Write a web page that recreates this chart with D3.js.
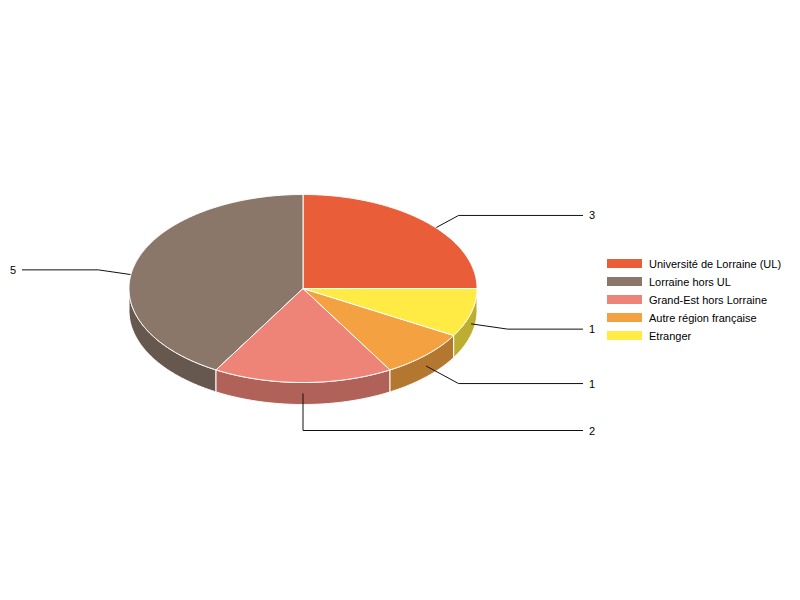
<!DOCTYPE html>
<html>
<head>
<meta charset="utf-8">
<script src="https://cdn.jsdelivr.net/npm/d3@7/dist/d3.min.js"></script>
<style>
  html, body { margin: 0; padding: 0; background: #fff; }
  svg { display: block; font-family: "Liberation Sans", Arial, sans-serif; }
</style>
</head>
<body>
<svg id="chart" width="800" height="600"></svg>
<script>
// ---- data ----
const categories = ["Université de Lorraine (UL)", "Lorraine hors UL", "Grand-Est hors Lorraine", "Autre région française", "Etranger"];
const values = [3, 5, 2, 1, 1];
const colors = ["#E95D38", "#8A7769", "#EE8377", "#F3A141", "#FFEB43"];

// ---- layout ----
const cx = 303, cy = 288.5, rx = 174, ry = 94, depth = 22;
const tickLen = 37;
const rightColX = 583, leftColX = 22;

const svg = d3.select("#chart");

const data = categories.map((c, i) => ({ name: c, value: values[i], color: colors[i] }));
const pie = d3.pie().sort(null).value(d => d.value).startAngle(0).endAngle(2 * Math.PI);
const arcs = pie(data).map(a => {
  // counter-clockwise from 3 o'clock in screen coordinates
  let t0 = -a.endAngle, t1 = -a.startAngle;
  while (t0 < 0) { t0 += 2 * Math.PI; t1 += 2 * Math.PI; }
  return { ...a, t0, t1, mid: (t0 + t1) / 2 };
});

const px = t => cx + rx * Math.cos(t);
const py = t => cy + ry * Math.sin(t);

function arcPoints(a, b, dy) {
  const n = Math.max(2, Math.ceil((b - a) / 0.01));
  return d3.range(n + 1).map(i => {
    const t = a + (b - a) * i / n;
    return [px(t), py(t) + dy];
  });
}

const line = d3.line();

// side walls (visible front half)
const sides = svg.append("g");
arcs.forEach(a => {
  [[0, Math.PI], [2 * Math.PI, 3 * Math.PI]].forEach(([lo, hi]) => {
    const s = Math.max(a.t0, lo), e = Math.min(a.t1, hi);
    if (e - s > 1e-6) {
      const top = arcPoints(s, e, 0);
      const bot = arcPoints(s, e, depth).reverse();
      sides.append("path")
        .attr("d", line(top.concat(bot)) + "Z")
        .attr("fill", d3.color(a.data.color).darker(0.85))
        .attr("stroke", "#fff")
        .attr("stroke-width", 1)
        .attr("stroke-linejoin", "round");
    }
  });
});

// leader lines (drawn under the top faces)
const leaders = svg.append("g");
arcs.forEach(a => {
  const m = a.mid;
  const ax = px(m), ay = py(m) + depth / 2;
  const ang = Math.atan2(ry * Math.sin(m), rx * Math.cos(m));
  const bx = ax + tickLen * Math.cos(ang), by = ay + tickLen * Math.sin(ang);
  const right = Math.cos(m) >= -1e-9;
  const ex = right ? rightColX : leftColX;
  leaders.append("path")
    .attr("d", line([[ax, ay], [bx, by], [ex, by]]))
    .attr("fill", "none")
    .attr("stroke", "#111")
    .attr("stroke-width", 1);
  leaders.append("text")
    .attr("x", right ? ex + 6 : ex - 6)
    .attr("y", by + 4)
    .attr("text-anchor", right ? "start" : "end")
    .attr("font-size", 11)
    .attr("fill", "#000")
    .text(a.data.value);
});

// top faces
const tops = svg.append("g");
arcs.forEach(a => {
  const pts = [[cx, cy]].concat(arcPoints(a.t0, a.t1, 0));
  tops.append("path")
    .attr("d", line(pts) + "Z")
    .attr("fill", a.data.color)
    .attr("stroke", "#fff")
    .attr("stroke-width", 1)
    .attr("stroke-linejoin", "round");
});

// legend
const legend = svg.append("g").attr("transform", "translate(607,259)");
data.forEach((d, i) => {
  const g = legend.append("g").attr("transform", `translate(0,${i * 18})`);
  g.append("rect").attr("width", 35).attr("height", 9).attr("fill", d.color);
  g.append("text").attr("x", 42).attr("y", 9).attr("font-size", 11).attr("fill", "#000").text(d.name);
});
</script>
</body>
</html>
